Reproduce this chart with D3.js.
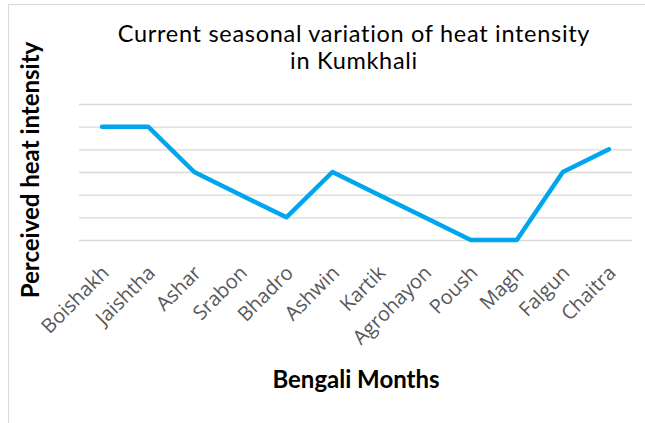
<!DOCTYPE html>
<html>
<head>
<meta charset="utf-8">
<script src="https://cdn.jsdelivr.net/npm/d3@7"></script>
<style>
  body { margin: 0; background: #fff; }
  svg { display: block; }
</style>
</head>
<body>
<svg id="chart"></svg>
<script>
// données
var months = ["Boishakh", "Jaishtha", "Ashar", "Srabon", "Bhadro", "Ashwin",
  "Kartik", "Agrohayon", "Poush", "Magh", "Falgun", "Chaitra"];
var intensity = [5, 5, 3, 2, 1, 3, 2, 1, 0, 0, 3, 4];
var gridTicks = [0, 1, 2, 3, 4, 5, 6];
var titleLines = ["Current seasonal variation of heat intensity", "in Kumkhali"];

var svg = d3.select("#chart").attr("width", 645).attr("height", 423);

// cadre du graphique
svg.append("rect")
  .attr("x", 8.5).attr("y", 4.5)
  .attr("width", 700).attr("height", 500)
  .attr("fill", "#fff")
  .attr("stroke", "#d9d9d9");

var margin = {top: 104, left: 79, right: 13, bottom: 183};
var width = 645 - margin.left - margin.right,
    height = 423 - margin.top - margin.bottom;
var g = svg.append("g").attr("transform", "translate(" + margin.left + "," + margin.top + ")");

var x = d3.scaleBand().domain(months).range([0, width]);
var y = d3.scaleLinear().domain([0, 6]).range([height, 0]);

// lignes de grille
g.append("g")
  .attr("class", "grid")
  .call(d3.axisLeft(y).tickValues(gridTicks).tickSize(-width).tickFormat(""))
  .call(function(a) {
    a.select(".domain").remove();
    a.selectAll("line").attr("stroke", "#d9d9d9").attr("stroke-width", 1.3);
  });

// axe x (sans trait)
g.append("g")
  .attr("transform", "translate(0," + height + ")")
  .call(d3.axisBottom(x).tickSize(0))
  .call(function(a) {
    a.select(".domain").remove();
    a.selectAll("text")
      .attr("fill", "#595959")
      .style("font", "20px 'Open Sans'")
      .attr("text-anchor", "end")
      .attr("dy", null)
      .attr("transform", "translate(6,32) rotate(-45)");
  });

// courbe
var line = d3.line()
  .x(function(d, i) { return x(months[i]) + x.bandwidth() / 2; })
  .y(function(d) { return y(d); });

g.append("path")
  .datum(intensity)
  .attr("fill", "none")
  .attr("stroke", "#00a6eb")
  .attr("stroke-width", 4.5)
  .attr("stroke-linecap", "round")
  .attr("stroke-linejoin", "round")
  .attr("d", line);

// titres
svg.append("g").selectAll("text")
  .data(titleLines)
  .enter().append("text")
  .attr("x", 354)
  .attr("y", function(d, i) { return 42 + i * 27; })
  .attr("text-anchor", "middle")
  .attr("fill", "#000")
  .style("font", "23.5px Lato")
  .style("letter-spacing", "0.7px")
  .text(function(d) { return d; });

svg.append("text")
  .attr("transform", "translate(39,170) rotate(-90)")
  .attr("text-anchor", "middle")
  .style("font", "bold 24px Lato")
  .text("Perceived heat intensity");

svg.append("text")
  .attr("x", 356).attr("y", 388)
  .attr("text-anchor", "middle")
  .style("font", "bold 24px Lato")
  .text("Bengali Months");
</script>
</body>
</html>
